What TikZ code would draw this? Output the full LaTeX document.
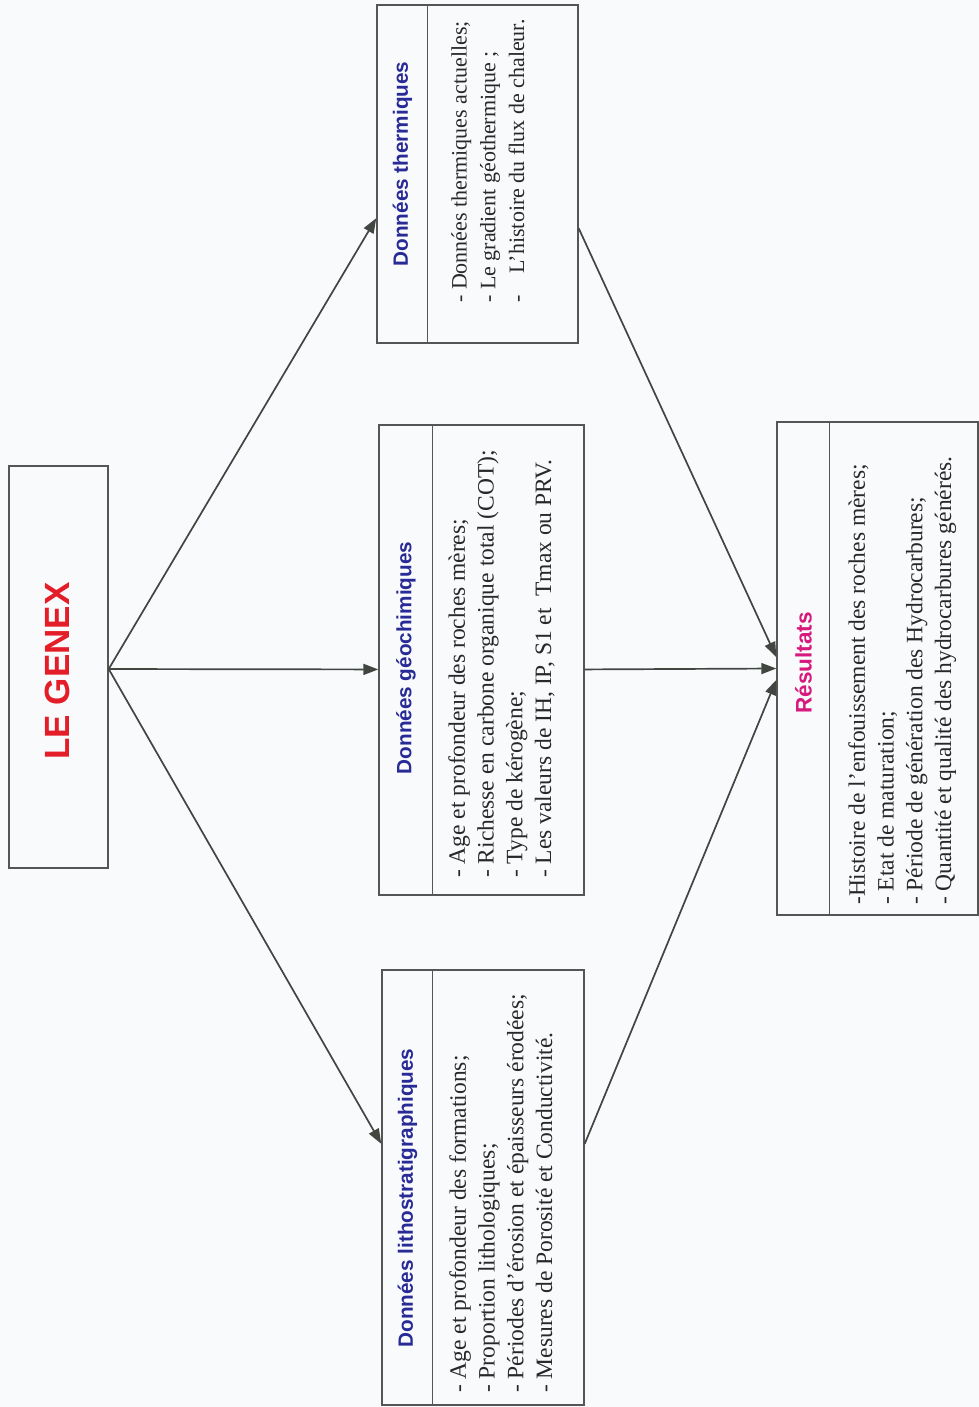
\documentclass[tikz,border=0pt]{standalone}
\usepackage{fontspec}
\setmainfont{Liberation Serif}
\newfontfamily\hdr{Liberation Sans}
\usetikzlibrary{arrows.meta,calc}
\definecolor{hblue}{RGB}{40,42,150}
\definecolor{hmag}{RGB}{215,25,125}
\definecolor{hred}{RGB}{228,30,40}
\definecolor{boxgray}{RGB}{85,85,85}
\definecolor{arrgray}{RGB}{65,70,65}
\definecolor{bg}{RGB}{249,250,252}
\definecolor{txt}{RGB}{40,40,40}
\begin{document}
\begin{tikzpicture}[x=1pt,y=-1pt,
  box/.style={draw=boxgray, line width=1.4pt, inner sep=0pt, rectangle},
  divline/.style={draw=boxgray, line width=1.3pt},
  head/.style={rotate=90, inner sep=0pt, font=\hdr\bfseries\fontsize{20.7}{22}\selectfont},
  body/.style={rotate=90, anchor=north west, inner sep=0pt, align=left, text=txt,
    font=\fontsize{23.5}{28.8}\selectfont},
  arr/.style={draw=arrgray, line width=1.7pt, -{Triangle[length=15pt,width=11pt]}}]
\useasboundingbox (0,0) rectangle (979,1407);
\fill[bg] (0,0) rectangle (979,1407);

% boxes
\node[box, minimum width=99pt, minimum height=402pt] (genex) at (58.5,667) {};
\node[box, minimum width=201pt, minimum height=338pt] (therm) at (477.5,174) {};
\node[box, minimum width=205pt, minimum height=470pt] (geo) at (481.5,660) {};
\node[box, minimum width=202pt, minimum height=435pt] (litho) at (483,1187.5) {};
\node[box, minimum width=201pt, minimum height=493pt] (res) at (877.5,668.5) {};

% dividers
\draw[divline] ($(therm.north west)+(51,0)$) -- ($(therm.south west)+(51,0)$);
\draw[divline] ($(geo.north west)+(54,0)$) -- ($(geo.south west)+(54,0)$);
\draw[divline] ($(litho.north west)+(51,0)$) -- ($(litho.south west)+(51,0)$);
\draw[divline] ($(res.north west)+(53,0)$) -- ($(res.south west)+(53,0)$);

% titles
\node[rotate=90, inner sep=0pt, text=hred, font=\hdr\bfseries\fontsize{35}{40}\selectfont] (tgenex) at (57,671) {LE GENEX};
\node[head, text=hblue] (ttherm) at (402.5,164) {Données thermiques};
\node[head, text=hblue] (tgeo) at (406,658) {Données géochimiques};
\node[head, text=hblue] (tlitho) at (407.5,1198) {Données lithostratigraphiques};
\node[head, text=hmag, font=\hdr\bfseries\fontsize{22.5}{24}\selectfont] (tres) at (803.5,663) {Résultats};

% bodies
\node[body, font=\fontsize{22}{28.8}\selectfont] (btherm) at (451,303) {- Données thermiques actuelles;\\- Le gradient géothermique ;\\-\quad L’histoire du flux de chaleur.};
\node[body] (bgeo) at (448,878) {- Age et profondeur des roches mères;\\- Richesse en carbone organique total (COT);\\- Type de kérogène;\\- Les valeurs de IH, IP, S1 et\ \ Tmax ou PRV.};
\node[body] (blitho) at (449,1393) {- Age et profondeur des formations;\\- Proportion lithologiques;\\- Périodes d’érosion et épaisseurs érodées;\\- Mesures de Porosité et Conductivité.};
\node[body] (bres) at (848,905) {-Histoire de l’enfouissement des roches mères;\\- Etat de maturation;\\- Période de génération des Hydrocarbures;\\- Quantité et qualité des hydrocarbures générés.};

% connectors
\coordinate (gsrc) at ($(genex.north east)!0.505!(genex.south east)$);
\draw[arr] (gsrc) -- ($(therm.north west)!0.63!(therm.south west)$);
\draw[arr] (gsrc) -- ($(geo.north west)!0.52!(geo.south west)$);
\draw[arr] (gsrc) -- ($(litho.north west)!0.40!(litho.south west)$);
\draw[arr] ($(therm.north east)!0.66!(therm.south east)$) -- ($(res.north west)!0.477!(res.south west)$);
\draw[arr] ($(geo.north east)!0.52!(geo.south east)$) -- ($(res.north west)!0.50!(res.south west)$);
\draw[arr] ($(litho.north east)!0.40!(litho.south east)$) -- ($(res.north west)!0.523!(res.south west)$);
\end{tikzpicture}
\end{document}
